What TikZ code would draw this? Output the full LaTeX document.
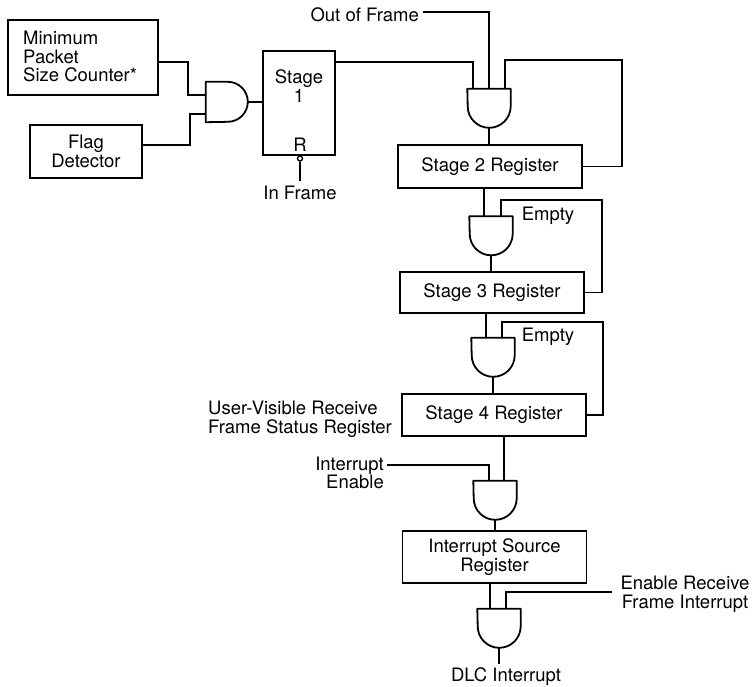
\documentclass[tikz,border=0pt]{standalone}
\usepackage{fontspec}
\setmainfont{TeX Gyre Heros}
\tikzset{%
    regbox/.style={draw,line width=1.8pt,minimum width=184pt,align=center,inner sep=0pt},
    sidebox/.style={draw,line width=1.8pt,align=center,inner sep=0pt},
    gatedown/.style={inner sep=0pt,minimum width=43pt,minimum height=39pt},
    gateright/.style={inner sep=0pt,minimum width=42pt,minimum height=40pt},
    gateline/.style={line width=1.8pt,line join=round},
    wire/.style={line width=1.7pt},
    lab/.style={align=center,inner sep=0pt,font=\fontsize{18.5}{18.7}\selectfont}
}
% and gate with its flat side on top: name, x, y
\newcommand{\andgatedown}[3]{%
    \node[gatedown] (#1) at (#2,#3) {};
    \draw[gateline] (#1.north west) -- (#1.north east) -- ++(0,17.5) arc (0:180:21.5) -- cycle;
}
\begin{document}
\begin{tikzpicture}[x=1pt,y=-1pt]
	\useasboundingbox (0,0) rectangle (752,686);
	% boxes
	\node[sidebox,minimum width=150pt,minimum height=75pt] (counter) at (83,57.5) {};
	\node[sidebox,lab,minimum width=112pt,minimum height=53pt] (flag) at (86,151.5) {Flag\\Detector};
	\node[sidebox,minimum width=72pt,minimum height=104pt] (stageone) at (299,103) {};
	\node[regbox,lab,minimum height=43pt] (regtwo) at (490,166.5) {Stage 2 Register};
	\node[regbox,lab,minimum height=41pt] (regthree) at (492,292.5) {Stage 3 Register};
	\node[regbox,lab,minimum height=42pt] (regfour) at (494,415) {Stage 4 Register};
	\node[regbox,lab,minimum height=52pt] (regsource) at (494.5,557) {Interrupt Source\\Register};
	% gates
	\node[gateright] (gateone) at (227,102) {};
	\draw[gateline] (gateone.north west) -- ++(22,0) arc (-90:90:20) -- (gateone.south west) -- cycle;
	\andgatedown{gatetwo}{489}{108.5}
	\andgatedown{gatethree}{491}{236}
	\andgatedown{gatefour}{493}{357.5}
	\andgatedown{gatefive}{495}{500.5}
	\andgatedown{gatesix}{499}{628.5}
	% labels
	\node[lab,align=left,anchor=west] (counterlab) at (23,56.5) {Minimum\\Packet\\Size Counter*};
	\node[lab] (stagelab) at (299,86) {Stage\\1};
	\node[lab] (resetlab) at (300,145) {R};
	\node[draw,circle,line width=1.4pt,minimum size=5pt,inner sep=0pt] (bubble) at (300,158.5) {};
	\node[lab] (inframe) at (300,193) {In Frame};
	\node[lab,anchor=east] (outframe) at (419,15) {Out of Frame};
	\node[lab] (emptytwo) at (548,216) {Empty};
	\node[lab] (emptythree) at (548,337) {Empty};
	\node[lab,align=left,anchor=west] (visible) at (208,419) {User-Visible Receive\\Frame Status Register};
	\node[lab,align=right,anchor=east] (intenable) at (384,473) {Interrupt\\Enable};
	\node[lab] (recvenable) at (685,594.5) {Enable Receive\\Frame Interrupt};
	\node[lab] (dlc) at (506,677) {DLC Interrupt};
	% corners of the feedback lines
	\coordinate (fbtwo) at (622,60);
	\coordinate (fbthree) at (602,200);
	\coordinate (fbfour) at (603,322);
	\coordinate (inone) at (188,62);
	\coordinate (intwo) at (190,145);
	\coordinate (inend) at (473,62);
	% connectors
	\draw[wire] ([yshift=-4.5pt]counter.east) -| (inone) |- ([yshift=7pt]gateone.west);
	\draw[wire] (flag.east |- intwo) -- (intwo) |- ([yshift=-12pt]gateone.west);
	\draw[wire] (gateone.east) -- (stageone.west |- gateone.east);
	\draw[wire] (bubble.south) -- ++(0,19);
	\draw[wire] (stageone.east |- inend) -- (inend) -- (inend |- gatetwo.north);
	\draw[wire] ([xshift=4pt,yshift=3pt]outframe.east) -| (gatetwo.north);
	\draw[wire] (regtwo.east) -| (fbtwo) -| ([xshift=16pt]gatetwo.north);
	\draw[wire] (gatetwo.south) -- (regtwo.north -| gatetwo.south);
	\draw[wire] (regtwo.south -| 484,0) -- (gatethree.north -| 484,0);
	\draw[wire] (regthree.east) -| (fbthree) -| ([xshift=10pt]gatethree.north);
	\draw[wire] (gatethree.south) -- (regthree.north -| gatethree.south);
	\draw[wire] (regthree.south -| 486,0) -- (gatefour.north -| 486,0);
	\draw[wire] (regfour.east) -| (fbfour) -| ([xshift=9pt]gatefour.north);
	\draw[wire] (gatefour.south) -- (regfour.north -| gatefour.south);
	\draw[wire] (regfour.south -| 504,0) -- (gatefive.north -| 504,0);
	\draw[wire] ([xshift=3pt,yshift=8pt]intenable.east) -| ([xshift=-6pt]gatefive.north);
	\draw[wire] (gatefive.south) -- (regsource.north -| gatefive.south);
	\draw[wire] (regsource.south -| 490,0) -- (gatesix.north -| 490,0);
	\draw[wire] ([xshift=-8pt,yshift=2.5pt]recvenable.west) -| ([xshift=7pt]gatesix.north);
	\draw[wire] (gatesix.south) -- ++(0,16);
\end{tikzpicture}
\end{document}
